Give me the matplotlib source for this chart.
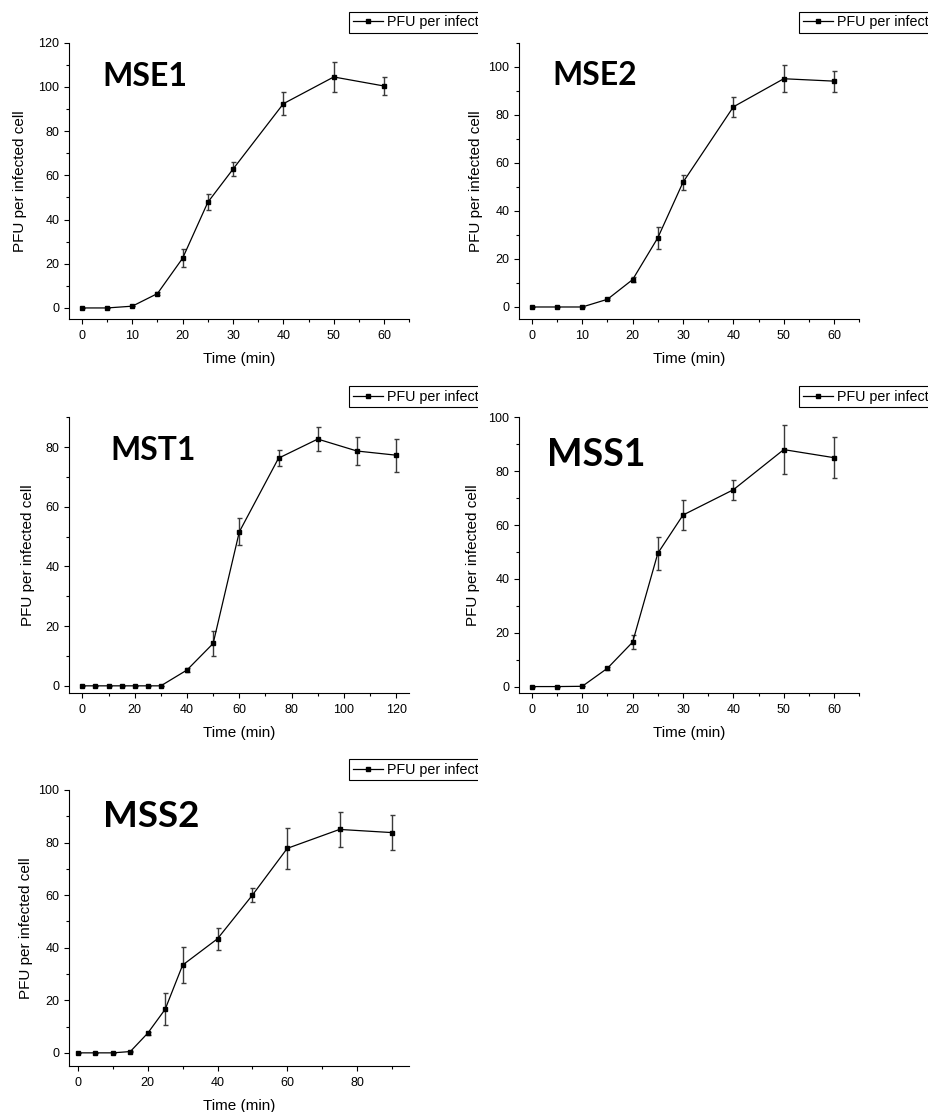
import matplotlib
matplotlib.use('Agg')
import matplotlib.pyplot as plt
from matplotlib.patches import Rectangle
from matplotlib.ticker import MultipleLocator

plt.rcParams['font.family'] = ['Liberation Sans', 'DejaVu Sans']

W, H = 931, 1112

# ---------------- data ----------------
mse1_time = [0, 5, 10, 15, 20, 25, 30, 40, 50, 60]
mse1_pfu = [0, 0, 0.8, 6.5, 22.5, 47.8, 62.8, 92.4, 104.5, 100.4]
mse1_err = [0, 0, 0, 0.5, 4.2, 3.6, 3.2, 5.2, 6.7, 4.1]

mse2_time = [0, 5, 10, 15, 20, 25, 30, 40, 50, 60]
mse2_pfu = [0, 0, 0, 3.2, 11.4, 28.8, 51.9, 83.3, 95.0, 94.0]
mse2_err = [0, 0, 0, 0.5, 1.1, 4.5, 3.1, 4.1, 5.6, 4.4]

mst1_time = [0, 5, 10, 15, 20, 25, 30, 40, 50, 60, 75, 90, 105, 120]
mst1_pfu = [0, 0, 0, 0, 0, 0, 0, 5.3, 14.2, 51.6, 76.3, 82.7, 78.7, 77.3]
mst1_err = [0, 0, 0, 0, 0, 0, 0, 0.6, 4.2, 4.5, 2.6, 4.0, 4.7, 5.5]

mss1_time = [0, 5, 10, 15, 20, 25, 30, 40, 50, 60]
mss1_pfu = [0, 0, 0.1, 6.8, 16.5, 49.5, 63.7, 73.1, 88.0, 85.0]
mss1_err = [0, 0, 0, 0.5, 2.5, 6.1, 5.6, 3.7, 9.0, 7.6]

mss2_time = [0, 5, 10, 15, 20, 25, 30, 40, 50, 60, 75, 90]
mss2_pfu = [0, 0, 0, 0.5, 7.5, 16.6, 33.4, 43.4, 60.0, 77.8, 85.0, 83.8]
mss2_err = [0, 0, 0, 0.3, 0.6, 6.1, 6.7, 4.1, 2.7, 7.7, 6.5, 6.7]

panel_names = ["MSE1", "MSE2", "MST1", "MSS1", "MSS2"]
legend_label = "PFU per infected cell"
x_label = "Time (min)"
y_label = "PFU per infected cell"

# ---------------- layout (pixels) ----------------
panels = [
    dict(name="MSE1", t=mse1_time, y=mse1_pfu, e=mse1_err,
         box=(69.3, 42.7, 409.3, 319.0), xlim=(-2.5, 65), ylim=(-5, 120),
         xmaj=10, xmin=5, title=(102.7, 86.0, 23.0), ylab=42.6),
    dict(name="MSE2", t=mse2_time, y=mse2_pfu, e=mse2_err,
         box=(519.3, 42.7, 859.3, 319.0), xlim=(-2.5, 65), ylim=(-5, 110),
         xmaj=10, xmin=5, title=(552.7, 85.0, 22.8), ylab=36.0),
    dict(name="MST1", t=mst1_time, y=mst1_pfu, e=mst1_err,
         box=(69.3, 417.3, 409.3, 693.3), xlim=(-5, 125), ylim=(-2.5, 90),
         xmaj=20, xmin=10, title=(110.0, 460.0, 22.8), ylab=34.3),
    dict(name="MSS1", t=mss1_time, y=mss1_pfu, e=mss1_err,
         box=(519.3, 417.3, 859.3, 693.3), xlim=(-2.5, 65), ylim=(-2.5, 100),
         xmaj=10, xmin=5, title=(547.3, 466.0, 27.0), ylab=39.3),
    dict(name="MSS2", t=mss2_time, y=mss2_pfu, e=mss2_err,
         box=(69.3, 790.0, 409.3, 1066.0), xlim=(-2.5, 95), ylim=(-5, 100),
         xmaj=20, xmin=10, title=(102.7, 826.7, 26.3), ylab=36.0),
]

fig = plt.figure(figsize=(W / 100, H / 100), dpi=100)
fig.patch.set_facecolor('white')

for p in panels:
    l, t, r, b = p['box']
    ax = fig.add_axes([l / W, 1 - b / H, (r - l) / W, (b - t) / H])
    ax.errorbar(p['t'], p['y'], yerr=p['e'], fmt='none', ecolor='#3a3a3a',
                elinewidth=1.0, capsize=1.8, capthick=1.0, zorder=2)
    ax.plot(p['t'], p['y'], color='black', linewidth=0.9, marker='s',
            markersize=3.2, markerfacecolor='black', markeredgecolor='black',
            label=legend_label, zorder=3)
    ax.set_xlim(*p['xlim'])
    ax.set_ylim(*p['ylim'])
    ax.xaxis.set_major_locator(MultipleLocator(p['xmaj']))
    ax.xaxis.set_minor_locator(MultipleLocator(p['xmin']))
    ax.yaxis.set_major_locator(MultipleLocator(20))
    ax.yaxis.set_minor_locator(MultipleLocator(10))
    for s in ['top', 'right']:
        ax.spines[s].set_visible(False)
    for s in ['left', 'bottom']:
        ax.spines[s].set_linewidth(0.8)
    ax.tick_params(which='major', direction='out', length=3.6, width=0.8,
                   labelsize=9, color='black')
    ax.tick_params(axis='x', which='major', pad=4.3)
    ax.tick_params(axis='y', which='major', pad=3.6)
    ax.tick_params(which='minor', direction='out', length=2.0, width=0.8)
    ax.set_xlabel(x_label, fontsize=11)
    ax.set_ylabel(y_label, fontsize=11)
    ax.yaxis.set_label_coords(-p['ylab'] / (r - l), 0.5)
    ax.xaxis.set_label_coords(0.5, -32.6 / (b - t))

    leg = ax.legend(loc='upper left',
                    bbox_to_anchor=((l + 280.0) / W, 1 - (t - 31.0) / H),
                    bbox_transform=fig.transFigure, fancybox=False,
                    edgecolor='black', framealpha=1, fontsize=10.3,
                    borderpad=0.25, borderaxespad=0, handlelength=2.1,
                    handletextpad=0.3, numpoints=1)
    leg.get_frame().set_linewidth(0.8)

    tx, tb, cap = p['title']
    fig.text(tx / W, 1 - tb / H, p['name'], fontfamily='Lato',
             fontweight='bold', fontsize=cap / 0.7165 * 0.72,
             ha='left', va='baseline', color='black')

# white covers reproducing the cropped legends
covers = [(478.3, 0, 560, 38), (928, 0, 931, 1112),
          (478.3, 380, 560, 411), (478.3, 740, 931, 800)]
for x0, y0, x1, y1 in covers:
    fig.add_artist(Rectangle((x0 / W, 1 - y1 / H), (x1 - x0) / W, (y1 - y0) / H,
                             transform=fig.transFigure, facecolor='white',
                             edgecolor='none', zorder=10))

fig.savefig('out.png', dpi=100)
